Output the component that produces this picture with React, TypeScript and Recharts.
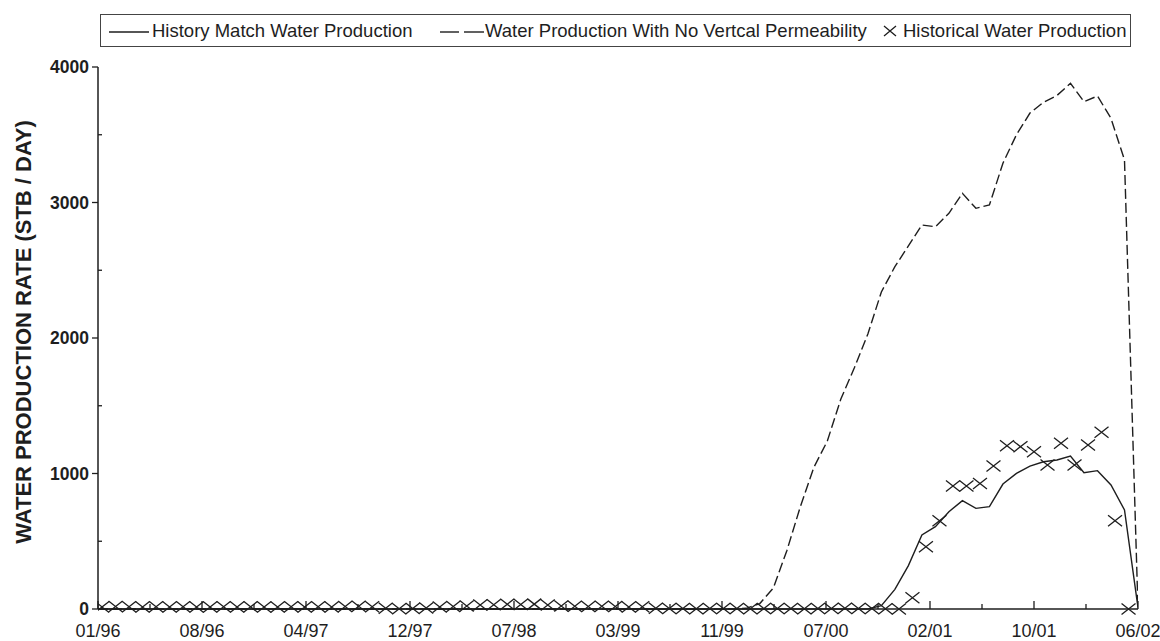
import React from "react";
import { LineChart, Line, XAxis, YAxis } from "recharts";

// x tick labels (11 evenly spaced major ticks over 77 months, Jan 1996 .. Jun 2002)
const X_TICK_LABELS = ["01/96", "08/96", "04/97", "12/97", "07/98", "03/99", "11/99", "07/00", "02/01", "10/01", "06/02"];
const X_MAX = 77;
const Y_TICKS = [0, 500, 1000, 1500, 2000, 2500, 3000, 3500, 4000];

// History Match Water Production (months 0..77)
const historyMatch = [
  0, 0, 0, 0, 0, 0, 0, 0, 0, 0, 0, 0, 0, 0, 0, 0, 0, 0, 0, 0,
  0, 0, 0, 0, 0, 0, 0, 0, 0, 0, 0, 0, 0, 0, 0, 0, 0, 0, 0, 0,
  0, 0, 0, 0, 0, 0, 0, 0, 0, 0, 0, 0, 0, 0, 0, 0, 0, 0,
  25, 145, 320, 546, 608, 718, 800, 743, 755, 922, 1001, 1055, 1087, 1100, 1129, 1006, 1021, 915, 731, 10,
];

// Water Production With No Vertical Permeability (months 0..77)
const noVertPerm = [
  0, 0, 0, 0, 0, 0, 0, 0, 0, 0, 0, 0, 0, 0, 0, 0, 0, 0, 0, 0,
  0, 0, 0, 0, 0, 0, 0, 0, 0, 0, 0, 0, 0, 0, 0, 0, 0, 0, 0, 0,
  0, 0, 0, 0, 0, 0, 0, 0,
  5, 40, 155, 430, 755, 1045, 1240, 1550, 1780, 2030, 2340, 2526, 2680, 2834, 2821, 2920, 3068, 2957, 2982,
  3290, 3500, 3660, 3740, 3790, 3880, 3744, 3786, 3621, 3314, 0,
];

// Historical Water Production (months 0..76, sampled mid-month)
const historical = [
  15, 18, 16, 15, 17, 15, 16, 14, 15, 17, 15, 16, 15, 14, 16, 15, 17, 15, 18, 20, 16,
  5, 2, 3, 8,
  14, 18, 22,
  30, 32, 35, 33, 36, 30,
  22, 20, 18, 20, 18, 15, 16,
  5, 3, 4, 2, 3, 4, 3, 2, 3, 4, 3, 2, 3, 4, 5, 3, 4, 2,
  0,
  83, 460, 652, 908, 908, 927, 1055, 1205, 1198, 1161, 1063, 1223, 1063, 1210, 1304, 652, 0,
];
const HIST_OFFSET = 0.3;

const matchData = historyMatch.map((v, i) => ({ m: i, v }));
const noVertData = noVertPerm.map((v, i) => ({ m: i, v }));
const histData = historical.map((v, i) => ({ m: i + HIST_OFFSET, v }));

const STEP = X_MAX / (X_TICK_LABELS.length - 1);
const xTicks: number[] = [];
for (let i = 0; i <= (X_TICK_LABELS.length - 1) * 2; i++) xTicks.push((i * STEP) / 2);

const FONT = "'Liberation Sans', Arial, Helvetica, sans-serif";
const INK = "#1e1e1e";

const XTick = (props: any) => {
  const { x, y, index } = props;
  const major = index % 2 === 0;
  return (
    <g>
      <line x1={x} y1={y} x2={x} y2={y - (major ? 8 : 5)} stroke={INK} strokeWidth={1.3} />
      {major && (
        <text x={x} y={y + 28} textAnchor="middle" fontSize={18} fontFamily={FONT} fill={INK}>
          {X_TICK_LABELS[index / 2]}
        </text>
      )}
    </g>
  );
};

const YTick = (props: any) => {
  const { x, y, payload } = props;
  const major = payload.value % 1000 === 0;
  return (
    <g>
      {major ? (
        <line x1={x - 6} y1={y} x2={x} y2={y} stroke={INK} strokeWidth={1.3} />
      ) : (
        <line x1={x} y1={y} x2={x + 4} y2={y} stroke={INK} strokeWidth={1.3} />
      )}
      {major && (
        <text x={x - 9} y={y + 6} textAnchor="end" fontSize={17.5} fontWeight="bold" fontFamily={FONT} fill={INK}>
          {payload.value}
        </text>
      )}
    </g>
  );
};

const XMark = (props: any) => {
  const { cx, cy, index } = props;
  if (cx == null || cy == null) return <g key={`x-${index}`} />;
  const w = 7;
  const h = 5.5;
  return (
    <path
      key={`x-${index}`}
      d={`M${cx - w},${cy - h}L${cx + w},${cy + h}M${cx - w},${cy + h}L${cx + w},${cy - h}`}
      stroke={INK}
      strokeWidth={1.3}
      fill="none"
    />
  );
};

const legendText: React.CSSProperties = {
  position: "absolute",
  top: 21,
  fontSize: 18.5,
  lineHeight: "20px",
  fontFamily: FONT,
  color: INK,
  whiteSpace: "nowrap",
};

export default function App() {
  return (
    <div style={{ position: "absolute", left: 0, top: 0, width: 1160, height: 641, background: "#fff" }}>
      <LineChart
        width={1160}
        height={641}
        margin={{ top: 67, right: 22, bottom: 0, left: 0 }}
        style={{ position: "absolute", left: 0, top: 0 }}
      >
        <XAxis
          type="number"
          dataKey="m"
          domain={[0, X_MAX]}
          ticks={xTicks}
          interval={0}
          height={32}
          tickSize={0}
          tickMargin={0}
          tickLine={false}
          axisLine={{ stroke: INK, strokeWidth: 1.5 }}
          tick={<XTick />}
          allowDataOverflow
        />
        <YAxis
          type="number"
          domain={[0, 4000]}
          ticks={Y_TICKS}
          interval={0}
          width={98}
          tickSize={0}
          tickMargin={0}
          tickLine={false}
          axisLine={{ stroke: INK, strokeWidth: 1.5 }}
          tick={<YTick />}
        />
        <Line
          data={noVertData}
          dataKey="v"
          type="linear"
          stroke={INK}
          strokeWidth={1.4}
          strokeDasharray="10 4"
          dot={false}
          activeDot={false}
          isAnimationActive={false}
        />
        <Line
          data={matchData}
          dataKey="v"
          type="linear"
          stroke={INK}
          strokeWidth={1.4}
          dot={false}
          activeDot={false}
          isAnimationActive={false}
        />
        <Line
          data={histData}
          dataKey="v"
          type="linear"
          stroke="none"
          dot={(p: any) => <XMark {...p} />}
          activeDot={false}
          isAnimationActive={false}
        />
      </LineChart>

      {/* Legend */}
      <div
        style={{
          position: "absolute",
          left: 100,
          top: 14,
          width: 1031,
          height: 33,
          border: "1.5px solid #444",
          boxSizing: "border-box",
        }}
      />
      <svg style={{ position: "absolute", left: 0, top: 0 }} width={1160} height={60}>
        <line x1={109} y1={32} x2={149} y2={32} stroke={INK} strokeWidth={1.4} />
        <line x1={440} y1={32} x2={459} y2={32} stroke={INK} strokeWidth={1.4} />
        <line x1={464} y1={32} x2={484} y2={32} stroke={INK} strokeWidth={1.4} />
        <path d="M884,26L896,36M884,36L896,26" stroke={INK} strokeWidth={1.3} fill="none" />
      </svg>
      <span style={{ ...legendText, left: 152 }}>History Match Water Production</span>
      <span style={{ ...legendText, left: 485 }}>Water Production With No Vertcal Permeability</span>
      <span style={{ ...legendText, left: 903 }}>Historical Water Production</span>

      {/* Y axis title */}
      <div
        style={{
          position: "absolute",
          left: 24,
          top: 332,
          transform: "translate(-50%, -50%) rotate(-90deg)",
          fontSize: 22,
          fontWeight: "bold",
          fontFamily: FONT,
          color: INK,
          whiteSpace: "nowrap",
        }}
      >
        WATER PRODUCTION RATE (STB / DAY)
      </div>
    </div>
  );
}
